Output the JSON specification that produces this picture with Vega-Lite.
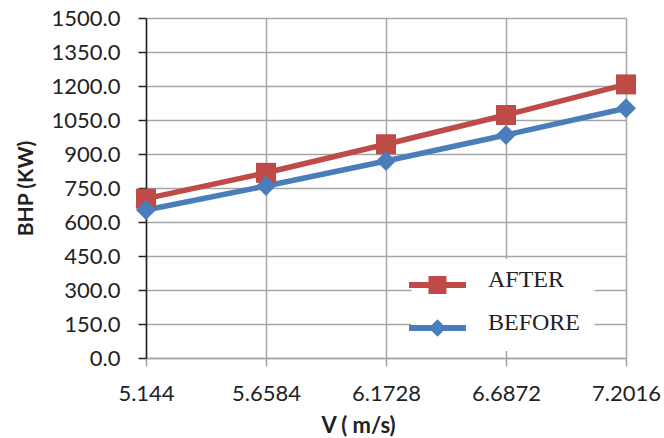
{
  "$schema": "https://vega.github.io/schema/vega-lite/v6.json",
  "width": 480,
  "height": 340,
  "autosize": {"type": "none"},
  "padding": {"left": 146, "top": 18, "right": 38, "bottom": 80},
  "background": "white",
  "config": {"view": {"stroke": null}, "font": "Lato"},
  "data": {
    "values": [
      {"v": "5.144", "series": "AFTER", "bhp": 703},
      {"v": "5.6584", "series": "AFTER", "bhp": 817},
      {"v": "6.1728", "series": "AFTER", "bhp": 943},
      {"v": "6.6872", "series": "AFTER", "bhp": 1072},
      {"v": "7.2016", "series": "AFTER", "bhp": 1207},
      {"v": "5.144", "series": "BEFORE", "bhp": 653},
      {"v": "5.6584", "series": "BEFORE", "bhp": 759},
      {"v": "6.1728", "series": "BEFORE", "bhp": 869},
      {"v": "6.6872", "series": "BEFORE", "bhp": 984},
      {"v": "7.2016", "series": "BEFORE", "bhp": 1102}
    ]
  },
  "encoding": {
    "x": {
      "field": "v",
      "type": "ordinal",
      "sort": null,
      "scale": {"type": "point", "padding": 0},
      "axis": {
        "title": "V ( m/s)",
        "labelAngle": 0,
        "labelFont": "Lato",
        "labelFontSize": 22,
        "labelColor": "#222222",
        "labelPadding": 17,
        "tickSize": 8,
        "tickColor": "#A6A6A6",
        "tickWidth": 1.5,
        "domainColor": "#A6A6A6",
        "domainWidth": 1.5,
        "grid": true,
        "gridColor": "#A6A6A6",
        "gridWidth": 1.5,
        "titleFont": "Lato",
        "titleFontSize": 22,
        "titleFontWeight": "bold",
        "titleColor": "#222222",
        "titleX": 212,
        "titleY": 74,
        "titleAlign": "center",
        "titleBaseline": "alphabetic"
      }
    },
    "y": {
      "field": "bhp",
      "type": "quantitative",
      "scale": {"domain": [0, 1500], "nice": false},
      "axis": {
        "title": "BHP (KW)",
        "values": [0, 150, 300, 450, 600, 750, 900, 1050, 1200, 1350, 1500],
        "format": ".1f",
        "labelFont": "Lato",
        "labelFontSize": 22,
        "labelColor": "#222222",
        "labelPadding": 18,
        "tickSize": 8,
        "tickColor": "#222222",
        "tickWidth": 1.5,
        "domainColor": "#222222",
        "domainWidth": 1.5,
        "grid": true,
        "gridColor": "#A6A6A6",
        "gridWidth": 1.5,
        "titleFont": "Lato",
        "titleFontSize": 21,
        "titleFontWeight": "bold",
        "titleColor": "#222222",
        "titleAngle": -90,
        "titleX": -114,
        "titleY": 170,
        "titleAlign": "center",
        "titleBaseline": "alphabetic"
      }
    },
    "color": {
      "field": "series",
      "type": "nominal",
      "scale": {"domain": ["AFTER", "BEFORE"], "range": ["#BE4B48", "#4A7EBB"]},
      "legend": {
        "orient": "none",
        "legendX": 265.5,
        "legendY": 241,
        "title": null,
        "padding": 14,
        "fillColor": "white",
        "symbolSize": 576,
        "symbolStrokeWidth": 0,
        "symbolOpacity": 1,
        "rowPadding": 17,
        "labelOffset": 38.5,
        "labelFont": "Liberation Serif",
        "labelFontSize": 24,
        "labelColor": "#222222",
        "encode": {
          "symbols": {
            "update": {
              "shape": {"signal": "datum.value === 'AFTER' ? 'M-2.375,-0.25H2.375V0.25H-2.375Z M-0.75,-0.75H0.75V0.75H-0.75Z' : 'M-2.375,-0.25H2.375V0.25H-2.375Z M0,-0.72L0.72,0L0,0.72L-0.72,0Z'"},
              "fill": {"scale": "color", "field": "value"},
              "fillOpacity": {"value": 1},
              "strokeWidth": {"value": 0}
            }
          },
          "labels": {"update": {"dy": {"value": -5}}}
        }
      }
    }
  },
  "layer": [
    {
      "mark": {"type": "line", "strokeWidth": 5.5}
    },
    {
      "transform": [{"filter": "datum.series === 'AFTER'"}],
      "mark": {"type": "point", "filled": true, "size": 400, "opacity": 1, "shape": "square"}
    },
    {
      "transform": [{"filter": "datum.series === 'BEFORE'"}],
      "mark": {"type": "point", "filled": true, "size": 400, "opacity": 1, "shape": "diamond"}
    }
  ]
}
